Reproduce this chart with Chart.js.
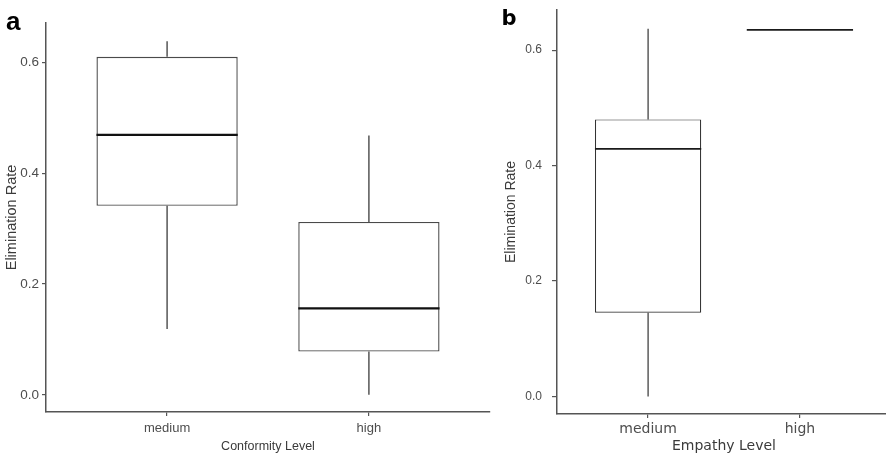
<!DOCTYPE html>
<html><head><meta charset="utf-8">
<script src="https://cdn.jsdelivr.net/npm/chart.js@4"></script>
<style>
html,body{margin:0;padding:0;background:#fff;overflow:hidden;width:886px;height:455px;position:relative;}
canvas{position:absolute;top:0;}
#ca{left:0}
#cb{left:495px}
</style></head><body>
<canvas id="ca" width="495" height="455"></canvas>
<canvas id="cb" width="400" height="455"></canvas>
<script>
// Panel a: Elimination Rate by Conformity Level
const categoriesA = ['medium', 'high'];
const minA    = [0.119, 0.000];
const q1A     = [0.341, 0.078];
const medianA = [0.469, 0.156];
const q3A     = [0.610, 0.312];
const maxA    = [0.638, 0.468];

// Panel b: Elimination Rate by Empathy Level
const categoriesB = ['medium', 'high'];
const minB    = [0.000, 0.635];
const q1B     = [0.145, 0.635];
const medianB = [0.429, 0.635];
const q3B     = [0.480, 0.635];
const maxB    = [0.637, 0.635];

const yTicks = [0.0, 0.2, 0.4, 0.6];

const boxExtras = {
  id: 'boxExtras',
  afterDatasetsDraw(chart, args, o) {
    const {ctx} = chart; const x = chart.scales.x, y = chart.scales.y;
    ctx.save();
    o.cats.forEach((c, i) => {
      const cx = x.getPixelForValue(i + 1);
      const hw = Math.abs(x.getPixelForValue(i + 1 + o.halfWidth) - cx);
      ctx.strokeStyle = o.whiskerColor; ctx.lineWidth = o.whiskerWidth;
      ctx.beginPath();
      ctx.moveTo(cx, y.getPixelForValue(o.q3[i])); ctx.lineTo(cx, y.getPixelForValue(o.max[i]));
      ctx.moveTo(cx, y.getPixelForValue(o.q1[i])); ctx.lineTo(cx, y.getPixelForValue(o.min[i]));
      ctx.stroke();
      ctx.strokeStyle = o.medianColor; ctx.lineWidth = o.medianWidth;
      ctx.beginPath();
      const my = y.getPixelForValue(o.median[i]);
      ctx.moveTo(cx - hw, my); ctx.lineTo(cx + hw, my);
      ctx.stroke();
    });
    ctx.restore();
  }
};
const panelLabel = {
  id: 'panelLabel',
  afterDraw(chart, args, o) {
    const ctx = chart.ctx; ctx.save();
    ctx.font = o.font; ctx.fillStyle = '#000'; ctx.textBaseline = 'alphabetic'; ctx.textAlign = 'left';
    ctx.fillText(o.text, o.x, o.y);
    ctx.restore();
  }
};

function makeChart(id, p) {
  return new Chart(document.getElementById(id), {
    type: 'bar',
    data: {
      datasets: [{
        data: p.cats.map((c, i) => ({x: i + 1, y: [p.q1[i], p.q3[i]]})),
        backgroundColor: '#ffffff',
        borderColor: p.boxColor,
        borderWidth: p.boxWidth,
        borderSkipped: false,
        barPercentage: 1,
        categoryPercentage: 0.7
      }]
    },
    plugins: [boxExtras, panelLabel],
    options: {
      responsive: false, animation: false,
      layout: {padding: p.padding},
      plugins: {
        legend: {display: false}, tooltip: {enabled: false},
        boxExtras: {cats: p.cats, min: p.min, q1: p.q1, median: p.median, q3: p.q3, max: p.max,
          halfWidth: 0.35, whiskerColor: p.boxColor, whiskerWidth: p.boxWidth,
          medianColor: p.medianColor, medianWidth: p.medianWidth},
        panelLabel: p.label
      },
      scales: {
        x: {
          type: 'linear', min: 0.4, max: 2.6, offset: false,
          afterBuildTicks: s => { s.ticks = p.cats.map((c, i) => ({value: i + 1})); },
          afterFit: s => { s.height = p.xHeight; s.paddingLeft = 0; s.paddingRight = 0; },
          ticks: {autoSkip: false, maxRotation: 0, padding: p.xTickPad, color: '#4d4d4d', font: p.xTickFont,
            callback: v => p.cats[Math.round(v) - 1]},
          grid: {display: true, offset: false, drawOnChartArea: false, drawTicks: true, tickLength: 4, color: p.axisColor, lineWidth: 1.2},
          border: {display: true, color: p.axisColor, width: 1.5},
          title: {display: true, text: p.xTitle, color: '#3a3a3a', font: p.xTitleFont, padding: {top: 0, bottom: p.xTitlePad}}
        },
        y: {
          type: 'linear', min: p.yMin, max: p.yMax,
          afterBuildTicks: s => { s.ticks = yTicks.map(v => ({value: v})); },
          afterFit: s => { s.width = p.yWidth; s.paddingTop = 0; s.paddingBottom = 0; },
          ticks: {padding: p.yTickPad, color: '#4d4d4d', font: p.yTickFont, callback: v => v.toFixed(1)},
          grid: {display: true, drawOnChartArea: false, drawTicks: true, tickLength: p.yTickLen, color: p.axisColor, lineWidth: 1.2},
          border: {display: true, color: p.axisColor, width: 1.5},
          title: {display: true, text: 'Elimination Rate', color: '#3a3a3a', font: p.yTitleFont, padding: {top: p.yTitlePad, bottom: 0}}
        }
      }
    }
  });
}

makeChart('ca', {
  cats: categoriesA, min: minA, q1: q1A, median: medianA, q3: q3A, max: maxA,
  boxColor: '#4a4a4a', boxWidth: 1.4, medianColor: '#111', medianWidth: 2.2, axisColor: '#555',
  padding: {left: 0, right: 5, top: 23, bottom: 0},
  xHeight: 43, yWidth: 46, yMin: -0.031, yMax: 0.671,
  xTitle: 'Conformity Level',
  xTickFont: {family: 'Liberation Sans', size: 13},
  xTitleFont: {family: 'Liberation Sans', size: 12.5},
  yTickFont: {family: 'Liberation Sans', size: 13.5},
  yTitleFont: {family: 'Liberation Sans', size: 14.5},
  xTickPad: 5, xTitlePad: 1,
  yTickPad: 3, yTickLen: 4, yTitlePad: 3,
  label: {text: 'a', font: 'bold 26px "Liberation Sans"', x: 6, y: 29.5}
});

makeChart('cb', {
  cats: categoriesB, min: minB, q1: q1B, median: medianB, q3: q3B, max: maxB,
  boxColor: '#333', boxWidth: 1.2, medianColor: '#1a1a1a', medianWidth: 1.8, axisColor: '#555',
  padding: {left: 0, right: 4, top: 10, bottom: 0},
  xHeight: 41, yWidth: 62, yMin: -0.0305, yMax: 0.6696,
  xTitle: 'Empathy Level',
  xTickFont: {family: 'DejaVu Sans', size: 14},
  xTitleFont: {family: 'DejaVu Sans', size: 14},
  yTickFont: {family: 'Liberation Sans', size: 12},
  yTitleFont: {family: 'Liberation Sans', size: 14},
  xTickPad: 3, xTitlePad: 0,
  yTickPad: 10, yTickLen: 5, yTitlePad: 7.6,
  label: {text: 'b', font: 'bold 21px "DejaVu Sans"', x: 6.5, y: 25}
});
</script>
</body></html>
